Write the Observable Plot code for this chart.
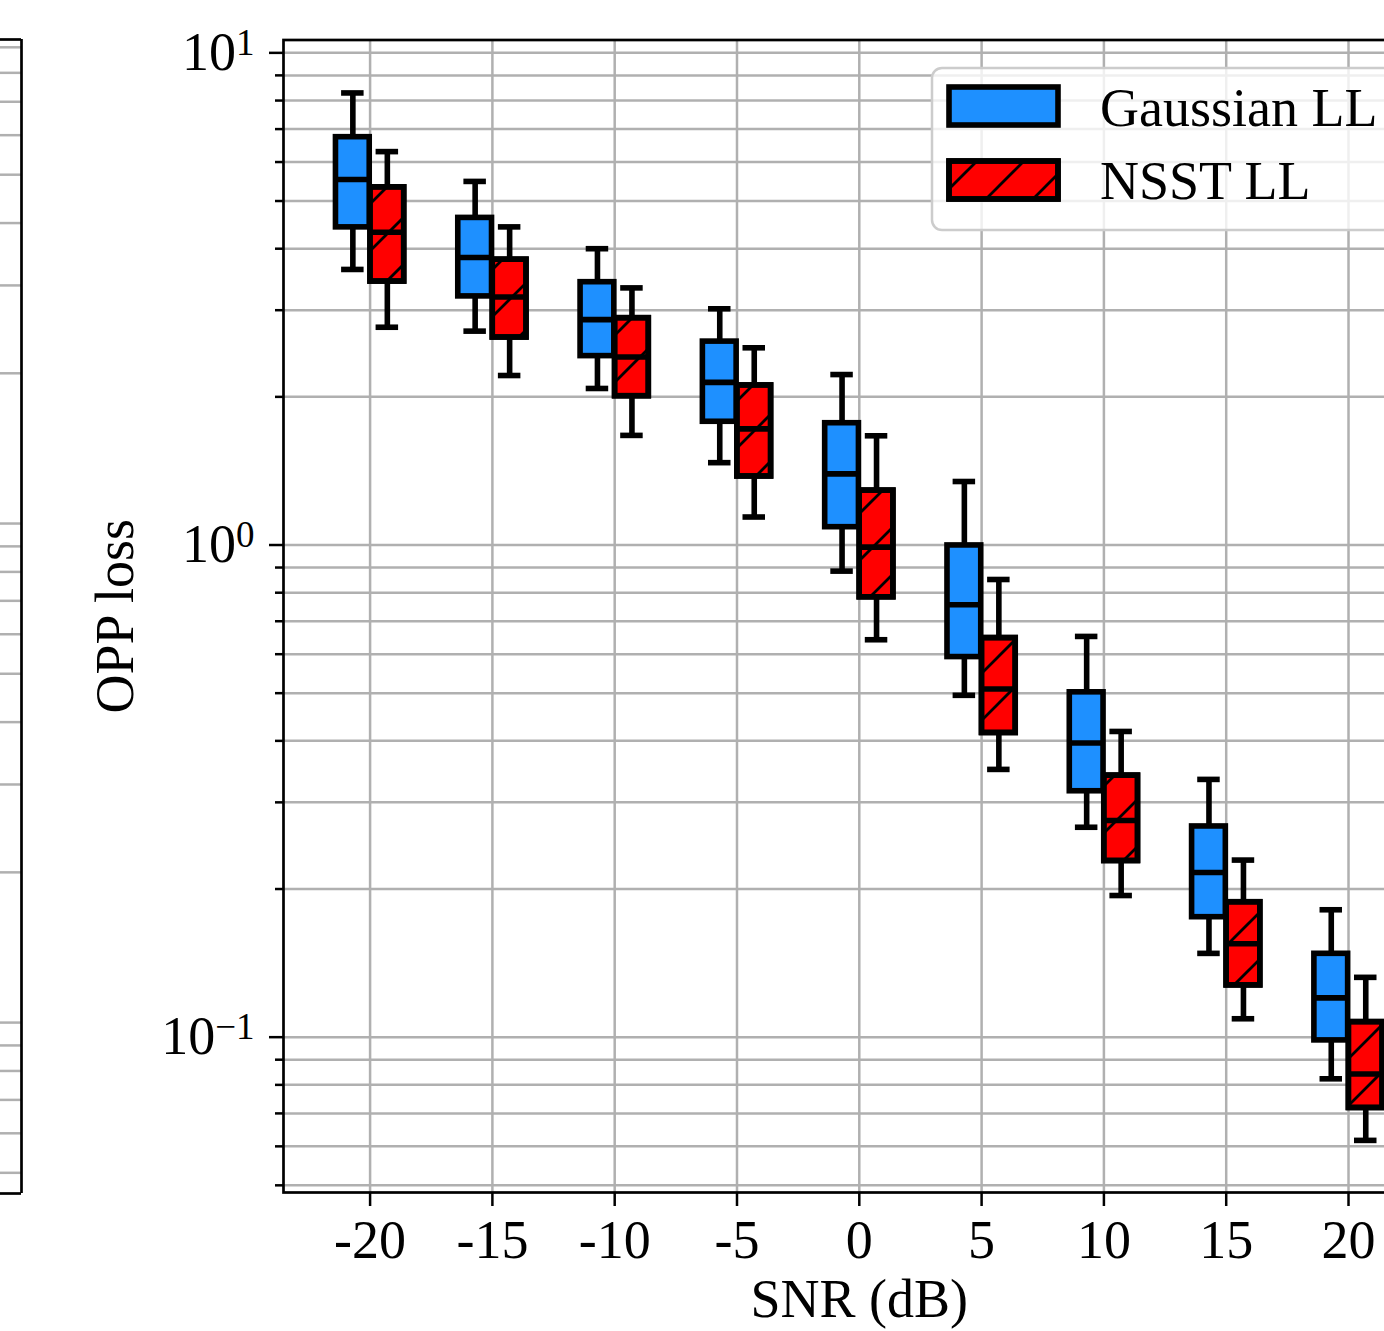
<!DOCTYPE html>
<html>
<head>
<meta charset="utf-8">
<script src="https://cdn.jsdelivr.net/npm/d3@7"></script>
<script src="https://cdn.jsdelivr.net/npm/@observablehq/plot@0.6"></script>
<style>
  html, body { margin: 0; padding: 0; background: #fff; overflow: hidden; }
  #wrap { position: relative; width: 1384px; height: 1331px; overflow: hidden; }
  #wrap svg { position: absolute; left: 0; top: 0; overflow: visible; max-width: none !important; }
</style>
</head>
<body>
<div id="wrap"></div>
<script>
// ---- data ----
const snr = [-20, -15, -10, -5, 0, 5, 10, 15, 20];
const seriesNames = ["Gaussian LL", "NSST LL"];
const seriesColors = ["#1e90ff", "#ff0000"];

const gaussLo  = [3.63, 2.72, 2.08, 1.47, 0.885, 0.495, 0.267, 0.148, 0.0823];
const gaussQ1  = [4.42, 3.20, 2.42, 1.78, 1.087, 0.592, 0.316, 0.1753, 0.0985];
const gaussMed = [5.53, 3.84, 2.87, 2.14, 1.395, 0.756, 0.396, 0.216, 0.1202];
const gaussQ3  = [6.74, 4.62, 3.42, 2.59, 1.768, 0.998, 0.502, 0.268, 0.1477];
const gaussHi  = [8.29, 5.48, 4.00, 3.02, 2.22, 1.346, 0.652, 0.334, 0.1815];

const nsstLo  = [2.77, 2.21, 1.67, 1.14, 0.642, 0.350, 0.194, 0.109, 0.0617];
const nsstQ1  = [3.43, 2.64, 2.006, 1.378, 0.783, 0.415, 0.228, 0.1274, 0.0718];
const nsstMed = [4.32, 3.19, 2.41, 1.722, 0.990, 0.510, 0.2756, 0.1548, 0.0842];
const nsstQ3  = [5.33, 3.80, 2.89, 2.11, 1.29, 0.647, 0.340, 0.188, 0.1073];
const nsstHi  = [6.30, 4.43, 3.33, 2.516, 1.667, 0.851, 0.418, 0.229, 0.1323];

const yMajorTicks = [0.1, 1, 10];
const yMinorTicks = [0.05, 0.06, 0.07, 0.08, 0.09, 0.2, 0.3, 0.4, 0.5, 0.6, 0.7, 0.8, 0.9, 2, 3, 4, 5, 6, 7, 8, 9];
const xLabel = "SNR (dB)";
const yLabel = "OPP loss";

// left (neighbouring) panel gridlines
const leftMajor = [0.1, 1];
const leftMinor = [0.05, 0.06, 0.07, 0.08, 0.09, 0.2, 0.3, 0.4, 0.5, 0.6, 0.7, 0.8, 0.9, 2, 3, 4, 5, 6, 7, 8, 9];

// ---- build table ----
const offset = 0.705, halfW = 0.69, capHalf = 0.46;
function rows(si, lo, q1, med, q3, hi) {
  const sgn = si === 0 ? -1 : 1;
  return snr.map((s, i) => ({
    series: seriesNames[si], pos: s + sgn * offset,
    lo: lo[i], q1: q1[i], med: med[i], q3: q3[i], hi: hi[i]
  }));
}
const gRows = rows(0, gaussLo, gaussQ1, gaussMed, gaussQ3, gaussHi);
const nRows = rows(1, nsstLo, nsstQ1, nsstMed, nsstQ3, nsstHi);

const FONT = "'Liberation Serif', 'Times New Roman', serif";
const FS = 54;
const LW = 5.6;
const GRID = "#b0b0b0";

function boxMarks(data, color, hatch) {
  const m = [
    Plot.ruleX(data, {x: "pos", y1: "lo", y2: "q1", stroke: "black", strokeWidth: LW}),
    Plot.ruleX(data, {x: "pos", y1: "q3", y2: "hi", stroke: "black", strokeWidth: LW}),
    Plot.ruleY(data, {y: "lo", x1: d => d.pos - capHalf, x2: d => d.pos + capHalf, stroke: "black", strokeWidth: LW}),
    Plot.ruleY(data, {y: "hi", x1: d => d.pos - capHalf, x2: d => d.pos + capHalf, stroke: "black", strokeWidth: LW}),
    Plot.rect(data, {x1: d => d.pos - halfW, x2: d => d.pos + halfW, y1: "q1", y2: "q3", fill: color, stroke: "black", strokeWidth: LW})
  ];
  if (hatch) m.push(Plot.rect(data, {x1: d => d.pos - halfW, x2: d => d.pos + halfW, y1: "q1", y2: "q3", fill: "url(#hatch)", stroke: "black", strokeWidth: LW}));
  m.push(Plot.ruleY(data, {y: "med", x1: d => d.pos - halfW, x2: d => d.pos + halfW, stroke: "black", strokeWidth: LW}));
  return m;
}

const W = 1450, H = 1331;
const main = Plot.plot({
  width: W, height: H,
  marginLeft: 283, marginRight: W - 1434.6, marginTop: 39.5, marginBottom: H - 1192,
  style: {fontFamily: FONT, fontSize: FS + "px", color: "black", background: "transparent", maxWidth: "none"},
  x: {domain: [-23.54, 23.54], axis: null},
  y: {type: "log", domain: [0.04835, 10.62], axis: null},
  marks: [
    Plot.gridY(yMinorTicks.concat(yMajorTicks), {stroke: GRID, strokeOpacity: 1, strokeWidth: 2.5}),
    Plot.gridX(snr, {stroke: GRID, strokeOpacity: 1, strokeWidth: 2.5}),
    Plot.axisY(yMinorTicks, {tickSize: 8, tickFormat: () => "", strokeWidth: 2.5, label: null}),
    Plot.axisY(yMajorTicks, {tickSize: 14, tickPadding: 15, strokeWidth: 2.5, fontSize: FS,
      tickFormat: d => "10^" + Math.round(Math.log10(d)), label: null}),
    Plot.axisX(snr, {tickSize: 14, tickPadding: 13, strokeWidth: 2.5, fontSize: FS,
      tickFormat: d => String(d), label: null}),
    ...boxMarks(gRows, seriesColors[0], false),
    ...boxMarks(nRows, seriesColors[1], true),
    Plot.frame({stroke: "black", strokeWidth: 2.7}),
    Plot.text([xLabel], {frameAnchor: "bottom", dy: 107, lineAnchor: "middle", textAnchor: "middle", fontSize: FS, fill: "black"}),
    Plot.text([yLabel], {frameAnchor: "left", dx: -168, rotate: -90, lineAnchor: "middle", textAnchor: "middle", fontSize: FS, fill: "black"})
  ]
});

// hatch pattern
const svg = d3.select(main.tagName.toLowerCase() === "svg" ? main : main.querySelector("svg"));
const defs = svg.insert("defs", ":first-child");
const pat = defs.append("pattern").attr("id", "hatch").attr("patternUnits", "userSpaceOnUse")
  .attr("width", 47).attr("height", 47).attr("x", 10).attr("y", 0);
pat.append("path").attr("d", "M0,47 L47,0 M-10,10 L10,-10 M37,57 L57,37")
  .attr("stroke", "black").attr("stroke-width", 2.8).attr("fill", "none");

// superscript exponents on y tick labels
svg.selectAll("text").each(function() {
  const t = this.textContent;
  if (/^10\^-?\d+$/.test(t)) {
    const exp = t.split("^")[1].replace("-", "\u2212");
    const el = d3.select(this);
    el.text("10");
    el.attr("dy", "0em");
    el.append("tspan").attr("dy", "-0.42em").attr("font-size", "37px").text(exp);
  }
});

// legend
const lg = svg.append("g").attr("font-family", FONT).attr("text-anchor", "start");
lg.append("rect").attr("x", 932).attr("y", 68).attr("width", 600).attr("height", 162).attr("rx", 10)
  .attr("fill", "white").attr("fill-opacity", 0.8).attr("stroke", "#cccccc").attr("stroke-width", 2.5);
seriesNames.forEach((name, i) => {
  const y0 = i === 0 ? 87 : 161;
  lg.append("rect").attr("x", 949).attr("y", y0).attr("width", 109).attr("height", 38)
    .attr("fill", seriesColors[i]).attr("stroke", "black").attr("stroke-width", LW);
  if (i === 1) lg.append("rect").attr("x", 949).attr("y", y0).attr("width", 109).attr("height", 38)
    .attr("fill", "url(#hatch)").attr("stroke", "black").attr("stroke-width", LW);
  lg.append("text").attr("x", 1100).attr("y", i === 0 ? 126 : 199).attr("font-size", "54px")
    .attr("text-anchor", "start").attr("fill", "black").text(name);
});

// left neighbouring panel (only its right edge is visible)
const left = Plot.plot({
  width: 24, height: H,
  marginLeft: 0, marginRight: 3, marginTop: 39, marginBottom: H - 1193,
  style: {background: "transparent", maxWidth: "none"},
  x: {domain: [0, 1], axis: null},
  y: {type: "log", domain: [0.04545, 9.33], axis: null},
  marks: [
    Plot.gridY(leftMinor.concat(leftMajor), {stroke: GRID, strokeOpacity: 1, strokeWidth: 2.5}),
    Plot.ruleX([1], {stroke: "black", strokeWidth: 2.7}),
    Plot.ruleY([0.04545, 9.33], {stroke: "black", strokeWidth: 2.7})
  ]
});

const wrap = document.getElementById("wrap");
wrap.appendChild(left);
wrap.appendChild(main);
</script>
</body>
</html>
